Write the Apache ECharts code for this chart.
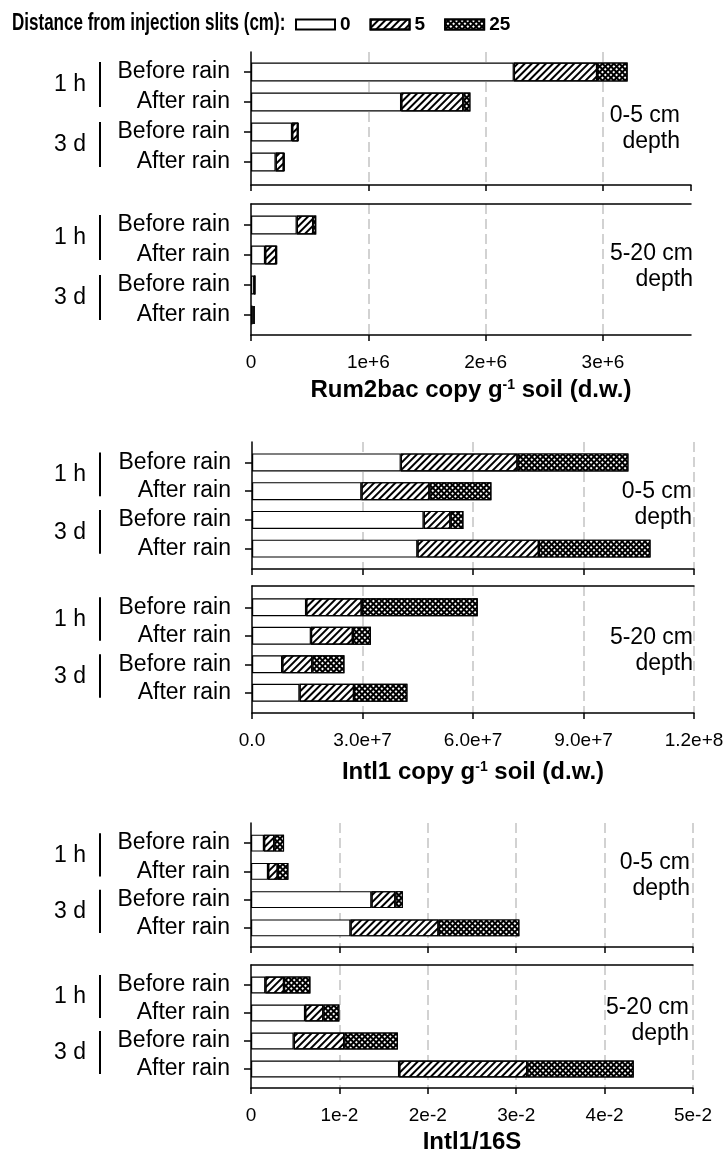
<!DOCTYPE html>
<html>
<head>
<meta charset="utf-8">
<script src="https://cdn.jsdelivr.net/npm/echarts@6/dist/echarts.min.js"></script>
<style>html,body{margin:0;padding:0;background:#fff}#main{width:727px;height:1155px}</style>
</head>
<body>
<div id="main"></div>
<script>
// categories: "group|label"
const categories = ['1 h|Before rain', '1 h|After rain', '3 d|Before rain', '3 d|After rain'];
const distances = ['0', '5', '25'];

// Rum2bac copy g-1 soil, 0-5 cm
const rumTop0 = [2.24e6, 1.28e6, 0.35e6, 0.21e6];
const rumTop5 = [0.71e6, 0.53e6, 0.05e6, 0.07e6];
const rumTop25 = [0.26e6, 0.06e6, 0.003e6, 0.005e6];
// Rum2bac, 5-20 cm
const rumLow0 = [0.39e6, 0.12e6, 0.028e6, 0.012e6];
const rumLow5 = [0.14e6, 0.096e6, 0.004e6, 0.01e6];
const rumLow25 = [0.026e6, 0.004e6, 0.002e6, 0.01e6];

// Intl1 copy g-1 soil, 0-5 cm
const intTop0 = [40.4e6, 29.7e6, 46.6e6, 44.9e6];
const intTop5 = [31.7e6, 18.5e6, 7.3e6, 33.0e6];
const intTop25 = [30.1e6, 16.8e6, 3.5e6, 30.3e6];
// Intl1, 5-20 cm
const intLow0 = [14.7e6, 16.0e6, 8.2e6, 12.9e6];
const intLow5 = [15.1e6, 11.4e6, 8.2e6, 14.8e6];
const intLow25 = [31.5e6, 4.9e6, 8.7e6, 14.5e6];

// Intl1/16S, 0-5 cm
const ratTop0 = [0.00147, 0.00193, 0.01362, 0.01125];
const ratTop5 = [0.00117, 0.00110, 0.00272, 0.00997];
const ratTop25 = [0.00110, 0.00120, 0.00084, 0.00914];
// Intl1/16S, 5-20 cm
const ratLow0 = [0.00162, 0.00612, 0.00483, 0.01676];
const ratLow5 = [0.00212, 0.00207, 0.00573, 0.01450];
const ratLow25 = [0.00298, 0.00181, 0.00605, 0.01204];

const rumTicks = ['0', '1e+6', '2e+6', '3e+6'];
const intTicks = ['0.0', '3.0e+7', '6.0e+7', '9.0e+7', '1.2e+8'];
const ratTicks = ['0', '1e-2', '2e-2', '3e-2', '4e-2', '5e-2'];

const panels = [
  { name: 'Rum2bac copy g{s|-1} soil (d.w.)', left: 251, width: 440, max: 3.75e6, interval: 1e6, ticks: rumTicks, showMax: false, nameGap: 43,
    subs: [
      { frame: [52, 185], band: [57, 177], bar: 19, data: [rumTop0, rumTop5, rumTop25], depth: '0-5 cm\ndepth', lx: 680, ly: 103 },
      { frame: [204, 335], band: [210, 330], bar: 19, data: [rumLow0, rumLow5, rumLow25], depth: '5-20 cm\ndepth', lx: 693, ly: 241 }
    ] },
  { name: 'Intl1 copy g{s|-1} soil (d.w.)', left: 252, width: 442, max: 1.2e8, interval: 3e7, ticks: intTicks, showMax: true, nameGap: 47,
    subs: [
      { frame: [442, 569], band: [448, 563], bar: 18, data: [intTop0, intTop5, intTop25], depth: '0-5 cm\ndepth', lx: 692, ly: 479 },
      { frame: [586, 713], band: [593, 707], bar: 18, data: [intLow0, intLow5, intLow25], depth: '5-20 cm\ndepth', lx: 693, ly: 625 }
    ] },
  { name: 'Intl1/16S', left: 251, width: 442, max: 0.05, interval: 0.01, ticks: ratTicks, showMax: true, nameGap: 42,
    subs: [
      { frame: [823, 947], band: [829, 942], bar: 17, data: [ratTop0, ratTop5, ratTop25], depth: '0-5 cm\ndepth', lx: 690, ly: 850 },
      { frame: [965, 1088], band: [971, 1083], bar: 17, data: [ratLow0, ratLow5, ratLow25], depth: '5-20 cm\ndepth', lx: 689, ly: 995 }
    ] }
];

const decals = [
  null,
  { symbol: 'rect', symbolSize: 1, dashArrayX: [1, 0], dashArrayY: [1.4, 2.6], rotation: -Math.PI / 4, color: '#000' },
  { symbol: 'rect', symbolSize: 1, dashArrayX: [1.5, 1.3], dashArrayY: [1.5, 1.3], rotation: Math.PI / 4, color: '#fff', backgroundColor: '#000' }
];

function tickFormatter(ticks, interval) {
  return function (v) {
    const k = Math.round(v / interval);
    return Math.abs(v - k * interval) < interval * 1e-6 && ticks[k] !== undefined ? ticks[k] : '';
  };
}

const black = { color: '#000', width: 1.5 };
const option = {
  animation: false,
  textStyle: { fontFamily: 'Liberation Sans', color: '#000' },
  legend: {
    left: 295, top: 15, padding: 0, itemWidth: 39, itemHeight: 10, itemGap: 19, icon: 'rect',
    data: distances, selectedMode: false,
    textStyle: { fontSize: 19, fontWeight: 'bold', color: '#000' }
  },
  grid: [], xAxis: [], yAxis: [], series: []
};

panels.forEach(function (p, pi) {
  p.subs.forEach(function (s, si) {
    const i = pi * 2 + si;
    const lower = si === 1;
    const fg = 2 * i, bg = 2 * i + 1;
    option.grid.push({ left: p.left, width: p.width, top: s.frame[0], height: s.frame[1] - s.frame[0] });
    option.grid.push({ left: p.left, width: p.width, top: s.band[0], height: s.band[1] - s.band[0] });

    option.xAxis.push({
      type: 'value', gridIndex: fg, min: 0, max: p.max, interval: p.interval, position: 'bottom',
      axisLine: { show: true, onZero: false, lineStyle: black },
      axisTick: { show: true, length: 6, lineStyle: black },
      axisLabel: { show: lower, margin: 18, fontSize: 19, color: '#000', showMinLabel: true, showMaxLabel: p.showMax, formatter: tickFormatter(p.ticks, p.interval) },
      splitLine: { show: true, showMinLine: false, showMaxLine: p.showMax, lineStyle: { color: '#c4c4c4', width: 1.5, type: [10, 5] } },
      name: lower ? p.name : '', nameLocation: 'middle', nameGap: p.nameGap,
      nameTextStyle: { fontSize: 24, fontWeight: 'bold', color: '#000',
        rich: { s: { fontSize: 14, fontWeight: 'bold', color: '#000', verticalAlign: 'top' } } }
    });
    option.xAxis.push({
      type: 'value', gridIndex: fg, min: 0, max: p.max, position: 'top', show: lower,
      axisLine: { show: true, onZero: false, lineStyle: black },
      axisTick: { show: false }, axisLabel: { show: false }, splitLine: { show: false }
    });
    option.xAxis.push({ type: 'value', gridIndex: bg, min: 0, max: p.max, show: false });

    option.yAxis.push({
      type: 'value', gridIndex: fg, min: 0, max: 1,
      axisLine: { show: true, onZero: false, lineStyle: black },
      axisTick: { show: false }, axisLabel: { show: false }, splitLine: { show: false }
    });
    option.yAxis.push({
      type: 'category', gridIndex: bg, data: categories, inverse: true,
      axisLine: { show: false },
      axisTick: { show: true, alignWithLabel: true, length: 7, lineStyle: black },
      axisLabel: { interval: 0, margin: 21, fontSize: 23, color: '#000', formatter: function (v) { return v.split('|')[1]; } }
    });

    s.data.forEach(function (vals, k) {
      option.series.push({
        type: 'bar', name: distances[k], stack: 'st' + i,
        xAxisIndex: 3 * i + 2, yAxisIndex: bg, barWidth: s.bar, data: vals,
        itemStyle: { color: '#fff', borderColor: '#000', borderWidth: 1.2, decal: decals[k] },
        emphasis: { disabled: true }, silent: true
      });
    });
  });
});

const chart = echarts.init(document.getElementById('main'));
chart.setOption(option);

// legend heading, group brackets, group labels and depth notes
const graphic = [{
  type: 'text', x: 12, y: 24, scaleX: 0.74,
  style: { text: 'Distance from injection slits (cm):', fontSize: 23, fontWeight: 'bold', fontFamily: 'Liberation Sans', fill: '#000', align: 'left', verticalAlign: 'middle' }
}];
panels.forEach(function (p, pi) {
  p.subs.forEach(function (s, si) {
    const i = pi * 2 + si;
    const yi = 2 * i + 1;
    const c = categories.map(function (cat) { return chart.convertToPixel({ yAxisIndex: yi }, cat); });
    [[0, 1], [2, 3]].forEach(function (pair) {
      const a = c[pair[0]], b = c[pair[1]];
      graphic.push({ type: 'line', shape: { x1: 100, y1: a - 10, x2: 100, y2: b + 5 }, style: { stroke: '#000', lineWidth: 2 } });
      graphic.push({ type: 'text', x: 86, y: (a + b) / 2 - 2,
        style: { text: categories[pair[0]].split('|')[0], fontSize: 23, fontFamily: 'Liberation Sans', fill: '#000', align: 'right', verticalAlign: 'middle' } });
    });
    graphic.push({ type: 'text', x: s.lx, y: s.ly,
      style: { text: s.depth, fontSize: 23, lineHeight: 26, fontFamily: 'Liberation Sans', fill: '#000', align: 'right', verticalAlign: 'top' } });
  });
});
chart.setOption({ graphic: graphic });
</script>
</body>
</html>
